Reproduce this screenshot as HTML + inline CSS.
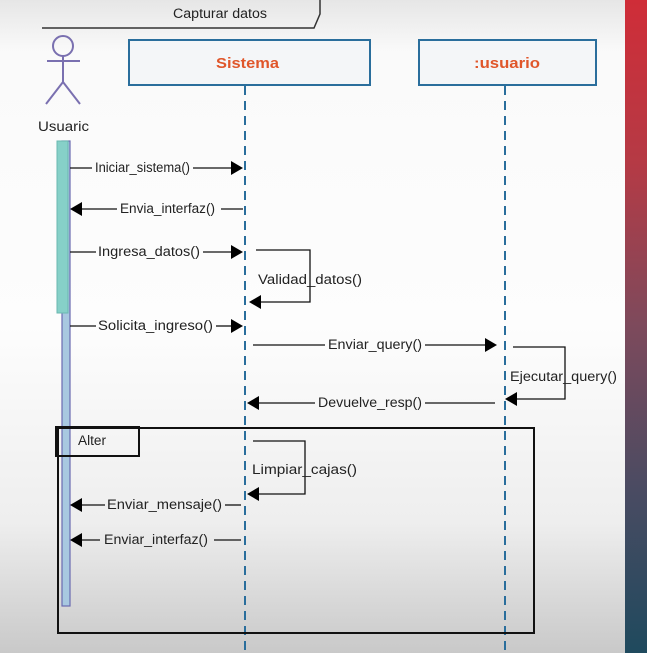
<!DOCTYPE html>
<html><head><meta charset="utf-8"><style>
html,body{margin:0;padding:0;width:647px;height:653px;overflow:hidden}
body{background:linear-gradient(180deg,#e6e6e6 0%,#fafafa 8%,#fdfdfd 50%,#eeeeee 80%,#c9c9c9 100%)}
svg{position:absolute;left:0;top:0}
text{font-family:"Liberation Sans",sans-serif;font-size:13.5px;fill:#222}
</style></head><body>
<svg width="647" height="653" viewBox="0 0 647 653">
<defs>
<linearGradient id="band" x1="0" y1="0" x2="0" y2="1">
<stop offset="0" stop-color="#cf2d38"/><stop offset="0.25" stop-color="#b53a45"/>
<stop offset="0.5" stop-color="#7d4a5c"/><stop offset="0.75" stop-color="#4a4b62"/>
<stop offset="1" stop-color="#1f4a5e"/></linearGradient>
</defs>
<rect x="625" y="0" width="22" height="653" fill="url(#band)"/>
<polyline points="42,28 314,28 320,14 320,0" fill="none" stroke="#333" stroke-width="1.5"/>
<text x="173" y="18" textLength="94" lengthAdjust="spacingAndGlyphs">Capturar datos</text>
<g stroke="#7a70b0" stroke-width="2" fill="none">
<circle cx="63" cy="46" r="10"/>
<line x1="63" y1="56" x2="63" y2="82"/>
<line x1="47" y1="61" x2="80" y2="61"/>
<line x1="63" y1="82" x2="46" y2="104"/>
<line x1="63" y1="82" x2="80" y2="104"/>
</g>
<text x="38" y="131" textLength="51" lengthAdjust="spacingAndGlyphs">Usuaric</text>
<rect x="129" y="40" width="241" height="45" fill="#f4f6f8" stroke="#2a6e9c" stroke-width="2"/>
<text x="216" y="68" textLength="63" lengthAdjust="spacingAndGlyphs" style="font-weight:bold;font-size:15px;fill:#e0562a">Sistema</text>
<rect x="419" y="40" width="177" height="45" fill="#f4f6f8" stroke="#2a6e9c" stroke-width="2"/>
<text x="474" y="68" textLength="66" lengthAdjust="spacingAndGlyphs" style="font-weight:bold;font-size:15px;fill:#e0562a">:usuario</text>
<g stroke="#2a6e9c" stroke-width="2" stroke-dasharray="9,6">
<line x1="245" y1="86" x2="245" y2="653"/>
<line x1="505" y1="86" x2="505" y2="653"/>
</g>
<rect x="62" y="141" width="8" height="465" fill="#a8c8e0" stroke="#6a6ab0" stroke-width="1.2"/>
<rect x="57" y="141" width="11" height="172" fill="#86d0c8" stroke="#6ab8b0" stroke-width="1"/>
<g stroke="#111" stroke-width="1.3" fill="none">
<line x1="70" y1="168" x2="92" y2="168"/><line x1="193" y1="168" x2="232" y2="168"/>
<line x1="80" y1="209" x2="117" y2="209"/><line x1="221" y1="209" x2="243" y2="209"/>
<line x1="70" y1="252" x2="96" y2="252"/><line x1="203" y1="252" x2="232" y2="252"/>
<polyline points="256,250 310,250 310,302 260,302"/>
<line x1="70" y1="326" x2="96" y2="326"/><line x1="216" y1="326" x2="232" y2="326"/>
<line x1="253" y1="345" x2="325" y2="345"/><line x1="425" y1="345" x2="486" y2="345"/>
<polyline points="513,347 565,347 565,399 516,399"/>
<line x1="258" y1="403" x2="315" y2="403"/><line x1="425" y1="403" x2="495" y2="403"/>
<polyline points="253,441 305,441 305,494 258,494"/>
<line x1="80" y1="505" x2="105" y2="505"/><line x1="225" y1="505" x2="241" y2="505"/>
<line x1="80" y1="540" x2="100" y2="540"/><line x1="214" y1="540" x2="241" y2="540"/>
</g>
<g fill="#000">
<polygon points="243,168 231,161 231,175"/>
<polygon points="70,209 82,202 82,216"/>
<polygon points="243,252 231,245 231,259"/>
<polygon points="249,302 261,295 261,309"/>
<polygon points="243,326 231,319 231,333"/>
<polygon points="497,345 485,338 485,352"/>
<polygon points="505,399 517,392 517,406"/>
<polygon points="247,403 259,396 259,410"/>
<polygon points="247,494 259,487 259,501"/>
<polygon points="70,505 82,498 82,512"/>
<polygon points="70,540 82,533 82,547"/>
</g>
<g style="" >
<text x="95" y="172" textLength="95" lengthAdjust="spacingAndGlyphs">Iniciar_sistema()</text>
<text x="120" y="213" textLength="95" lengthAdjust="spacingAndGlyphs">Envia_interfaz()</text>
<text x="98" y="256" textLength="102" lengthAdjust="spacingAndGlyphs">Ingresa_datos()</text>
<text x="258" y="284" textLength="104" lengthAdjust="spacingAndGlyphs">Validad_datos()</text>
<text x="98" y="330" textLength="115" lengthAdjust="spacingAndGlyphs">Solicita_ingreso()</text>
<text x="328" y="349" textLength="94" lengthAdjust="spacingAndGlyphs">Enviar_query()</text>
<text x="510" y="381" textLength="107" lengthAdjust="spacingAndGlyphs">Ejecutar_query()</text>
<text x="318" y="407" textLength="104" lengthAdjust="spacingAndGlyphs">Devuelve_resp()</text>
<text x="252" y="474" textLength="105" lengthAdjust="spacingAndGlyphs">Limpiar_cajas()</text>
<text x="107" y="509" textLength="115" lengthAdjust="spacingAndGlyphs">Enviar_mensaje()</text>
<text x="104" y="544" textLength="104" lengthAdjust="spacingAndGlyphs">Enviar_interfaz()</text>
</g>
<rect x="58" y="428" width="476" height="205" fill="none" stroke="#111" stroke-width="2"/>
<rect x="56" y="427" width="83" height="29" fill="none" stroke="#111" stroke-width="2"/>
<text x="78" y="445" textLength="28" lengthAdjust="spacingAndGlyphs">Alter</text>
</svg>
</body></html>
